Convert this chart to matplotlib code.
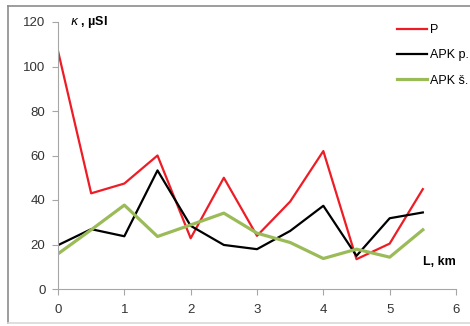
import matplotlib
matplotlib.use('Agg')
import matplotlib.pyplot as plt
from matplotlib.lines import Line2D

plt.rcParams['font.family'] = ['Liberation Sans', 'DejaVu Sans']

# distance along profile, km
dist = [0, 0.5, 1, 1.5, 2, 2.5, 3, 3.5, 4, 4.5, 5, 5.5]
# magnetic susceptibility, uSI
kappa_p    = [107, 43, 47.4, 60, 22.8, 50, 23.9, 39.3, 62, 13.4, 20.4, 44.9]
kappa_apkp = [19.7, 26.9, 23.7, 53.3, 28.4, 19.8, 17.9, 26.1, 37.4, 14.9, 31.8, 34.4]
kappa_apks = [15.8, 26.6, 37.7, 23.6, 28.8, 34.1, 25.1, 20.9, 13.7, 17.9, 14.3, 26.6]
labels = ['P', 'APK p.', 'APK š.']

fig = plt.figure(figsize=(4.7, 3.26), dpi=100)
ax = fig.add_axes([58/470, 1-289/326, (456-58)/470, (289-22)/326])

# outer chart frame
fc = '#8c8c8c'
fig.add_artist(Line2D([8/470, 8/470], [1-323/326, 1-6/326], color=fc, lw=1.2))
fig.add_artist(Line2D([8/470, 1], [1-6/326, 1-6/326], color=fc, lw=1.2))
fig.add_artist(Line2D([8/470, 1], [1-323/326, 1-323/326], color='#d9d9d9', lw=1.2))

ax.plot(dist, kappa_p, color='#ee1c25', lw=1.6, label=labels[0])
ax.plot(dist, kappa_apkp, color='black', lw=1.6, label=labels[1])
ax.plot(dist, kappa_apks, color='#9bbb59', lw=2.3, label=labels[2])

ax.set_xlim(0, 6)
ax.set_ylim(0, 120)
ax.set_xticks(range(0, 7))
ax.set_yticks(range(0, 121, 20))
for s in ['top', 'right']:
    ax.spines[s].set_visible(False)
for s in ['left', 'bottom']:
    ax.spines[s].set_color('#a6a6a6')
    ax.spines[s].set_linewidth(0.8)
ax.tick_params(direction='out', length=4, width=0.8, color='#a6a6a6',
               labelsize=9.5, labelcolor='#333333', pad=5)
ax.tick_params(axis='x', pad=7)

ax.text(0.03, 1.0, r'$\kappa$ , µSI', transform=ax.transAxes, fontsize=9,
        fontweight='bold', va='center', ha='left')
ax.text(1.0, 0.1, 'L, km', transform=ax.transAxes, fontsize=9,
        fontweight='bold', va='center', ha='right')

fig.legend(loc='upper left', bbox_to_anchor=(386/470, 1-13/326), frameon=False,
           fontsize=9, handlelength=2.4, handletextpad=0.25, labelspacing=1.05)

fig.savefig('out.png', dpi=100)
